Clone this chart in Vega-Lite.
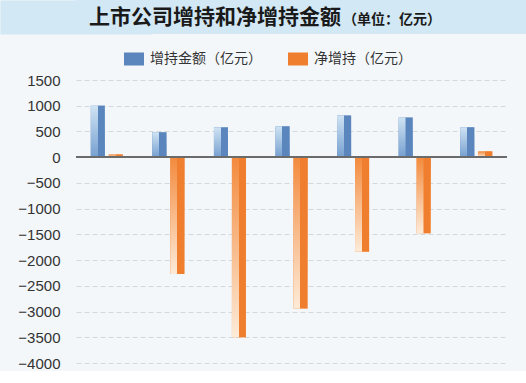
{
  "$schema": "https://vega.github.io/schema/vega-lite/v6.json",
  "background": "#f4f7fa",
  "padding": 0,
  "spacing": 15,
  "config": {"view": {"stroke": null}, "font": "Liberation Sans"},
  "resolve": {"legend": {"color": "independent"}},
  "vconcat": [
    {
      "width": 450,
      "height": 34,
      "view": {"fill": "#d2e8f4", "stroke": null},
      "data": {"values": [{"t": "上市公司增持和净增持金额", "u": "（单位：亿元）"}]},
      "encoding": {
        "y": {"datum": 0, "type": "quantitative", "scale": {"domain": [-1, 1]},
          "axis": {"title": null, "labels": false, "ticks": false, "grid": false, "domain": true,
            "domainWidth": 152, "domainColor": "#d2e8f4", "domainCap": "butt", "minExtent": 76, "maxExtent": 76}}
      },
      "layer": [
        {
          "mark": {"type": "text", "align": "right", "baseline": "middle", "dx": 40, "dy": 1, "fontSize": 21, "fontWeight": "bold", "font": "Noto Sans CJK SC", "color": "#1a1a1a"},
          "encoding": {"text": {"field": "t"}}
        },
        {
          "mark": {"type": "text", "align": "left", "baseline": "middle", "dx": 42, "dy": 3, "fontSize": 14, "fontWeight": "bold", "font": "Noto Sans CJK SC", "color": "#1a1a1a"},
          "encoding": {"text": {"field": "u"}}
        }
      ]
    },
    {
      "width": 431,
      "height": 283,
      "data": {"values": [
        {"g": "1", "s": "增持金额（亿元）", "v": 1000},
        {"g": "1", "s": "净增持（亿元）", "v": 50},
        {"g": "2", "s": "增持金额（亿元）", "v": 485},
        {"g": "2", "s": "净增持（亿元）", "v": -2270},
        {"g": "3", "s": "增持金额（亿元）", "v": 580},
        {"g": "3", "s": "净增持（亿元）", "v": -3500},
        {"g": "4", "s": "增持金额（亿元）", "v": 600},
        {"g": "4", "s": "净增持（亿元）", "v": -2940},
        {"g": "5", "s": "增持金额（亿元）", "v": 810},
        {"g": "5", "s": "净增持（亿元）", "v": -1840},
        {"g": "6", "s": "增持金额（亿元）", "v": 770},
        {"g": "6", "s": "净增持（亿元）", "v": -1480},
        {"g": "7", "s": "增持金额（亿元）", "v": 580},
        {"g": "7", "s": "净增持（亿元）", "v": 110}
      ]},
      "layer": [
        {
          "encoding": {
            "x": {"field": "g", "type": "ordinal", "axis": null, "scale": {"paddingInner": 0.48, "paddingOuter": 0.24}},
            "xOffset": {"field": "s", "type": "nominal", "scale": {"domain": ["增持金额（亿元）", "净增持（亿元）"], "paddingInner": 0.22}},
            "y": {
              "field": "v", "type": "quantitative",
              "scale": {"domain": [-4000, 1500], "nice": false},
              "axis": {
                "title": null,
                "values": [-4000, -3500, -3000, -2500, -2000, -1500, -1000, -500, 0, 500, 1000, 1500],
                "format": "d", "labelOverlap": false,
                "grid": true, "gridDash": [5, 3], "gridColor": "#d4d8dc", "gridWidth": 1,
                "domain": false, "ticks": false,
                "labelFontSize": 15, "labelColor": "#333333", "labelPadding": 16,
                "labelFont": "Liberation Sans", "minExtent": 76, "maxExtent": 76
              }
            }
          },
          "layer": [
            {
              "mark": {"type": "bar"},
              "encoding": {
                "color": {
                  "field": "s", "type": "nominal",
                  "scale": {"domain": ["增持金额（亿元）", "净增持（亿元）"], "range": ["#5a85bd", "#ef7f2e"]},
                  "legend": {
                    "title": null, "orient": "none", "direction": "horizontal",
                    "legendX": 48, "legendY": -31,
                    "symbolType": "M-1,-0.65H1V0.65H-1Z", "symbolSize": 400, "symbolStrokeWidth": 0, "symbolOpacity": 1,
                    "labelFont": "Noto Sans CJK SC", "labelFontSize": 14, "labelColor": "#333333",
                    "labelOffset": 6, "columnPadding": 26
                  }
                }
              }
            },
            {
              "transform": [{"filter": "datum.s === '增持金额（亿元）'"}],
              "mark": {"type": "bar", "color": {"gradient": "linear", "x1": 0, "y1": 0, "x2": 0, "y2": 1, "stops": [{"offset": 0, "color": "#cfe3f3"}, {"offset": 1, "color": "#76a0d0"}]}}
            },
            {
              "transform": [{"filter": "datum.s === '增持金额（亿元）'"}],
              "mark": {"type": "bar", "color": {"gradient": "linear", "x1": 0, "y1": 0, "x2": 1, "y2": 0, "stops": [{"offset": 0, "color": "rgba(90,133,189,0)"}, {"offset": 0.48, "color": "rgba(90,133,189,0)"}, {"offset": 0.5, "color": "#5a85bd"}, {"offset": 1, "color": "#5a85bd"}]}}
            },
            {
              "transform": [{"filter": "datum.s === '净增持（亿元）'"}],
              "mark": {"type": "bar", "color": {"gradient": "linear", "x1": 0, "y1": 0, "x2": 0, "y2": 1, "stops": [{"offset": 0, "color": "#f38a3d"}, {"offset": 1, "color": "#fdebd8"}]}}
            },
            {
              "transform": [{"filter": "datum.s === '净增持（亿元）'"}],
              "mark": {"type": "bar", "color": {"gradient": "linear", "x1": 0, "y1": 0, "x2": 1, "y2": 0, "stops": [{"offset": 0, "color": "rgba(239,127,46,0)"}, {"offset": 0.48, "color": "rgba(239,127,46,0)"}, {"offset": 0.5, "color": "#ef7f2e"}, {"offset": 1, "color": "#ef7f2e"}]}}
            }
          ]
        },
        {
          "mark": {"type": "rule", "color": "#6b6b6b", "strokeWidth": 1.5},
          "encoding": {"y": {"datum": 0, "axis": {
                "title": null,
                "values": [-4000, -3500, -3000, -2500, -2000, -1500, -1000, -500, 0, 500, 1000, 1500],
                "format": "d", "labelOverlap": false,
                "grid": true, "gridDash": [5, 3], "gridColor": "#d4d8dc", "gridWidth": 1,
                "domain": false, "ticks": false,
                "labelFontSize": 15, "labelColor": "#333333", "labelPadding": 16,
                "labelFont": "Liberation Sans", "minExtent": 76, "maxExtent": 76
              }}}
        }
      ]
    }
  ]
}
